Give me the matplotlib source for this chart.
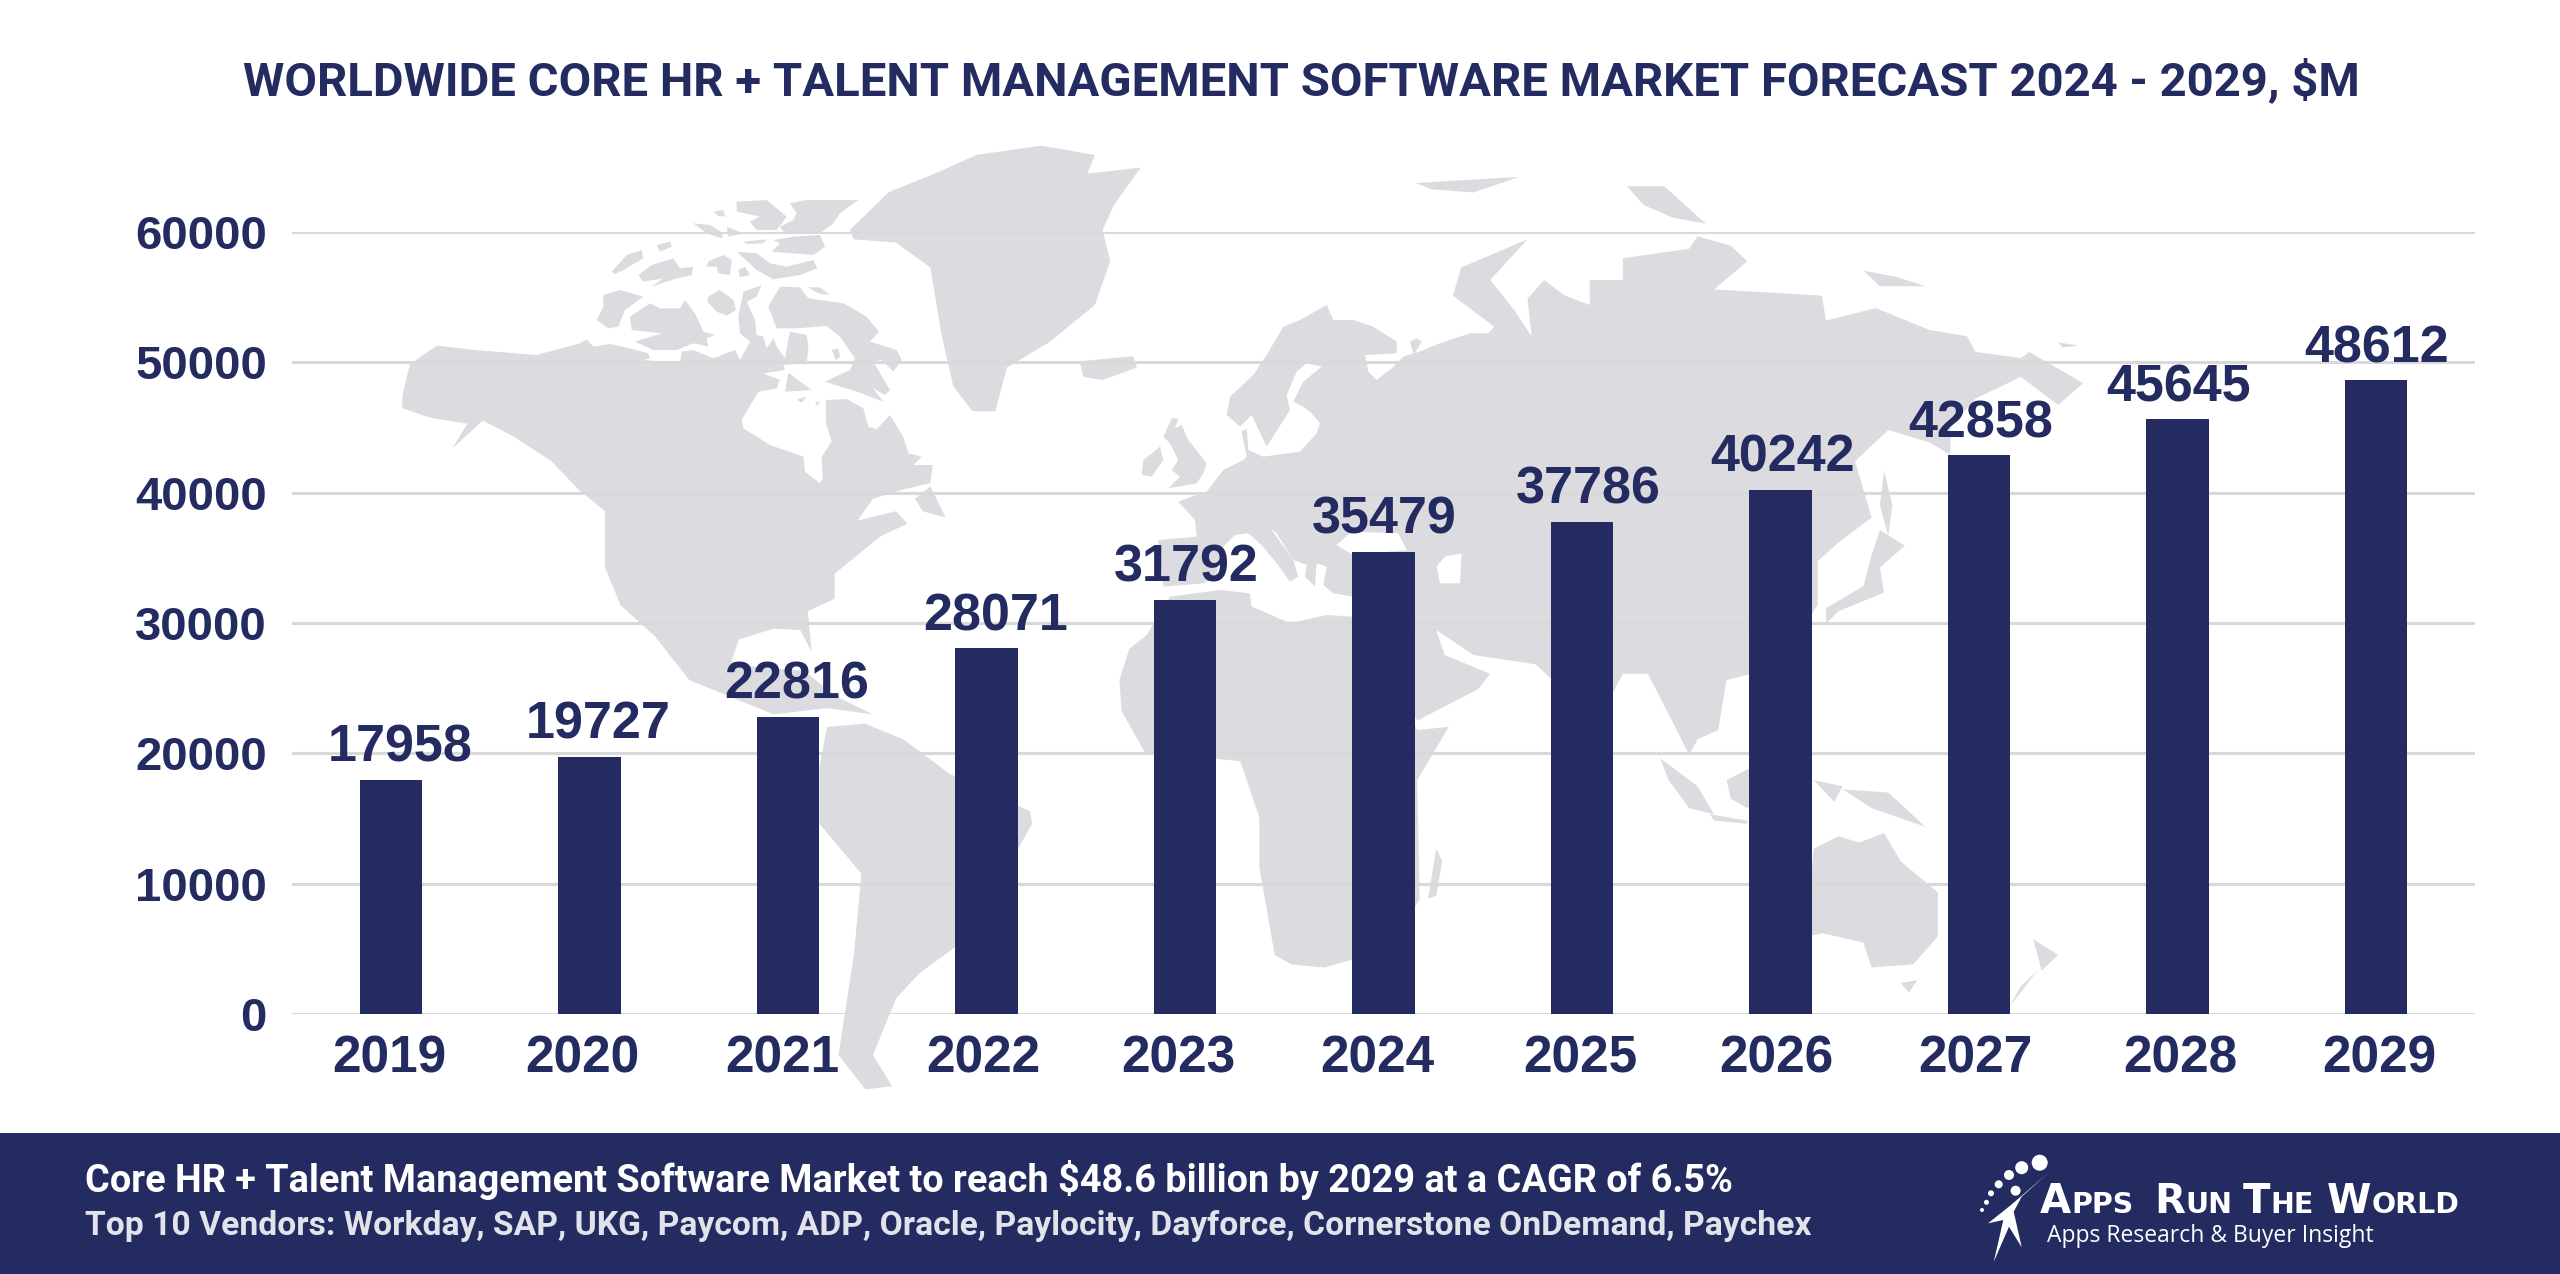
import matplotlib
matplotlib.use("Agg")
import matplotlib.pyplot as plt
from matplotlib.patches import Polygon, Circle, Rectangle
from matplotlib.transforms import ScaledTranslation

years = ["2019", "2020", "2021", "2022", "2023", "2024", "2025", "2026", "2027", "2028", "2029"]
market = [17958, 19727, 22816, 28071, 31792, 35479, 37786, 40242, 42858, 45645, 48612]
yticks = [0, 10000, 20000, 30000, 40000, 50000, 60000]

title = "WORLDWIDE CORE HR + TALENT MANAGEMENT SOFTWARE MARKET FORECAST 2024 - 2029, $M"
line1 = "Core HR + Talent Management Software Market to reach $48.6 billion by 2029 at a CAGR of 6.5%"
line2 = "Top 10 Vendors: Workday, SAP, UKG, Paycom, ADP, Oracle, Paylocity, Dayforce, Cornerstone OnDemand, Paychex"

NAVY = "#242b60"
MAP = "#dcdce0"
GRID = "#d9d9d9"
W, H = 2560, 1274

# hand nudges in px, the labels in the original are not quite centred
label_nudge = [9, 9, 9, 9, 1, 1, 6, 2, 2, 1, 1]
tick_nudge = [-2, -7, -6, -3, -7, -6, -2, -4, -3, 3, 4]


# outlines, four crops with their own scales
def a(pts):
    return [(100 + x / 1.3067, 130 + y / 1.6) for x, y in pts]


def b(pts):
    return [(1200 + x / 1.206, 130 + y / 1.6) for x, y in pts]


def c(pts):
    return [(580 + x / 3, 200 + y / 3) for x, y in pts]


def d(pts):
    return [(1120 + x / 3, 300 + y / 3) for x, y in pts]


north_america = a([(395, 425), (405, 375), (440, 345), (490, 352), (570, 360)]) + \
    c([(0, 430), (20, 418), (40, 440), (90, 432), (150, 445), (205, 460), (210, 475), (190, 480), (300, 488), (305, 455),
       (340, 450), (400, 475), (465, 450), (480, 480), (510, 425), (480, 400), (475, 350), (490, 275), (545, 255),
       (530, 290), (500, 305), (525, 360), (530, 405), (550, 410), (560, 445), (580, 415), (590, 440), (615, 475),
       (625, 420), (630, 395), (680, 405), (685, 440), (680, 490), (610, 495), (615, 510), (550, 520), (600, 540),
       (590, 565), (535, 575), (485, 660), (490, 685), (570, 735), (670, 770), (675, 815), (720, 850), (728, 835),
       (725, 770), (755, 725), (738, 670), (738, 600), (800, 597), (850, 625), (865, 680), (890, 688), (930, 645),
       (970, 710), (985, 760), (1025, 770), (1000, 795), (1058, 795)]) + \
    a([(1085, 565), (1050, 575), (1010, 590), (990, 625), (1040, 610), (1055, 630), (1020, 650), (990, 680), (960, 710),
       (960, 750), (925, 770), (930, 835), (915, 800), (880, 798), (835, 815), (825, 850), (860, 860), (920, 865),
       (960, 905), (1010, 935), (950, 925), (880, 935), (820, 905), (770, 880), (725, 810), (680, 760), (660, 700),
       (660, 610), (625, 575), (590, 530), (540, 490), (500, 465), (460, 510), (405, 555), (460, 510), (480, 470),
       (430, 460), (395, 445)])
south_america = a([(950, 955), (1000, 950), (1050, 975), (1110, 1030), (1215, 1090), (1218, 1110), (1195, 1160),
                   (1125, 1260), (1120, 1305), (1070, 1350), (1040, 1390), (1010, 1480), (1035, 1530), (1000, 1535),
                   (965, 1480), (985, 1320), (995, 1190), (940, 1110), (940, 1020)])
greenland = a([(980, 160), (1030, 100), (1100, 65), (1145, 40), (1230, 25), (1300, 40), (1290, 70), (1360, 60),
               (1325, 120), (1310, 160), (1320, 210), (1300, 280), (1240, 340), (1185, 380), (1170, 450), (1140, 450),
               (1115, 410), (1100, 330), (1085, 220), (1040, 180), (985, 175)])
arctic = [
    c([(470, 5), (560, 0), (620, 50), (590, 90), (530, 90), (510, 65), (540, 50), (470, 35)]),
    c([(630, 10), (680, 0), (835, 0), (780, 40), (760, 70), (720, 100), (610, 95), (600, 80), (640, 60), (650, 40)]),
    c([(580, 120), (640, 110), (720, 105), (735, 140), (700, 165), (575, 155), (600, 130)]),
    c([(470, 155), (530, 160), (570, 190), (620, 200), (700, 180), (712, 205), (660, 225), (580, 238), (530, 210)]),
    c([(340, 70), (390, 75), (430, 100), (425, 115), (380, 100)]),
    c([(440, 80), (490, 100), (445, 110)]),
    c([(400, 35), (430, 30), (435, 50), (415, 48)]),
    c([(490, 125), (560, 118), (550, 130), (500, 132)]),
    c([(95, 215), (140, 165), (185, 150), (190, 175), (130, 210), (105, 222)]),
    c([(175, 225), (215, 195), (280, 175), (300, 205), (340, 200), (335, 225), (290, 235), (215, 260), (250, 235),
       (190, 245)]),
    c([(230, 135), (270, 125), (275, 140), (240, 155)]),
    c([(385, 185), (430, 165), (455, 180), (450, 225), (415, 220), (410, 200), (380, 200)]),
    c([(475, 210), (495, 200), (510, 225), (480, 232)]),
    c([(70, 285), (120, 270), (190, 290), (135, 330), (115, 380), (85, 385), (50, 360), (70, 320)]),
    c([(150, 350), (210, 310), (240, 325), (300, 325), (315, 300), (345, 340), (370, 395), (405, 405), (380, 415),
       (385, 440), (340, 430), (290, 450), (220, 450), (165, 425), (245, 400), (155, 390)]),
    c([(385, 290), (420, 270), (460, 300), (468, 330), (440, 347), (410, 335), (382, 305)]),
    c([(565, 320), (600, 260), (660, 262), (685, 295), (790, 310), (860, 350), (897, 395), (870, 425), (950, 450),
       (965, 480), (940, 515), (905, 480), (880, 485), (930, 570), (915, 585), (880, 565), (910, 605), (830, 575),
       (735, 545), (810, 510), (825, 475), (780, 410), (740, 378), (650, 385), (590, 385)]),
    c([(755, 450), (775, 445), (780, 470), (768, 480)]),
    c([(625, 518), (695, 570), (615, 575)]),
    c([(650, 598), (680, 590), (665, 608)]),
    c([(705, 605), (720, 605), (712, 618)]),
    c([(685, 262), (720, 262), (750, 285), (715, 280)]),
    a([(1065, 590), (1085, 570), (1105, 620), (1075, 610)]),
    a([(1280, 370), (1350, 362), (1355, 380), (1310, 400), (1285, 395)]),
    d([(130, 410), (155, 355), (175, 355), (165, 385), (185, 375), (205, 420), (260, 490), (250, 520), (230, 550),
       (145, 565), (180, 530), (155, 510), (175, 480), (150, 430)]),
    d([(65, 525), (70, 480), (120, 440), (130, 480), (95, 530)]),
]
eurasia = d([(320, 345), (330, 290), (400, 225), (440, 165), (490, 80), (540, 60), (620, 15), (640, 60), (700, 60),
             (760, 80), (830, 125), (830, 160), (735, 165), (745, 215), (770, 240), (815, 205), (850, 170), (880, 160),
             (870, 125), (890, 115), (905, 125), (885, 160), (960, 130), (1050, 100), (1105, 100)]) + \
    b([(355, 315), (305, 265), (315, 220), (395, 175), (350, 240), (380, 290), (400, 330), (395, 270), (415, 240),
       (440, 265), (470, 280), (470, 240), (510, 240), (510, 205), (590, 190), (600, 170), (640, 185), (660, 210),
       (620, 255), (750, 265), (755, 305), (815, 285), (880, 320), (925, 330), (935, 355), (990, 365), (1000, 355),
       (1065, 405), (1035, 440), (990, 395), (935, 430), (905, 475), (905, 520), (880, 500), (830, 480),
       (790, 530), (810, 620), (770, 660), (745, 690), (745, 760), (725, 800), (700, 870), (665, 870), (635, 880),
       (625, 960), (600, 975), (590, 1000), (575, 960), (540, 870), (510, 870), (498, 900), (470, 960), (425, 880),
       (405, 855), (330, 840), (285, 800), (295, 840), (350, 870), (335, 895), (262, 945), (245, 900), (200, 800)]) + \
    d([(700, 890), (640, 880), (610, 855), (620, 800), (590, 790), (585, 860), (555, 830), (560, 795), (520, 780),
       (470, 700), (430, 670), (455, 690), (520, 780), (535, 830), (510, 845), (470, 790), (425, 735), (385, 700),
       (345, 705), (300, 750), (290, 830), (250, 850), (130, 860), (115, 720), (230, 710), (225, 660), (175, 605),
       (215, 590), (260, 575), (310, 510), (370, 480), (380, 470), (365, 395), (380, 385), (385, 450), (430, 470),
       (540, 455), (590, 400), (600, 370), (575, 340), (670, 330), (590, 350), (550, 320), (520, 305), (550, 245),
       (605, 200), (560, 190), (530, 215), (500, 285), (510, 330), (440, 440), (395, 345), (360, 380)])
africa = a([(1345, 830), (1332, 880), (1335, 930), (1365, 995), (1490, 1010), (1515, 1100), (1515, 1180),
            (1535, 1320)]) + \
    b([(110, 1335), (150, 1340), (230, 1310), (265, 1230), (262, 1040), (300, 955), (262, 960)]) + \
    d([(700, 950), (620, 945), (530, 965), (500, 965), (395, 920), (390, 880), (300, 870), (150, 890), (80, 1005)])
islands = [
    b([(820, 640), (850, 665), (820, 700), (825, 740), (770, 770), (755, 790), (755, 765), (800, 730), (810, 680)]),
    b([(825, 545), (835, 600), (830, 650), (820, 600)]),
    b([(555, 1005), (600, 1050), (620, 1095), (590, 1085), (565, 1040)]),
    b([(615, 1095), (660, 1105), (660, 1110), (620, 1105)]),
    b([(635, 1040), (665, 1020), (690, 1060), (660, 1085), (640, 1070)]),
    b([(740, 1040), (775, 1050), (765, 1075)]),
    b([(775, 1055), (830, 1060), (875, 1115), (810, 1085)]),
    b([(740, 1150), (770, 1130), (795, 1140), (825, 1125), (845, 1170), (890, 1220), (890, 1290), (860, 1335),
       (810, 1340), (800, 1300), (750, 1285), (735, 1290), (737, 1200)]),
    b([(845, 1365), (865, 1360), (855, 1380)]),
    b([(1005, 1295), (1035, 1320), (1015, 1345), (1010, 1320)]),
    b([(1010, 1345), (975, 1405), (990, 1370)]),
    b([(260, 85), (320, 80), (385, 75), (330, 100), (280, 95)]),
    b([(515, 90), (560, 90), (610, 150), (570, 140), (535, 120)]),
    b([(800, 225), (840, 235), (875, 250), (820, 250)]),
    b([(1035, 340), (1060, 345), (1040, 348)]),
    b([(275, 1230), (285, 1150), (292, 1170), (285, 1225)]),
]
seas = [
    d([(950, 800), (975, 770), (1025, 760), (1020, 850), (960, 850)]),
    d([(650, 735), (695, 695), (835, 700), (860, 750), (700, 765)]),
]

logo_person = [(2048.5, 1172.7), (2021.7, 1196.7), (2013.7, 1211.7), (2021.7, 1247.3), (2009, 1226.7), (1993.8, 1261.7),
               (2003.3, 1220), (1988, 1223.3), (2011, 1205)]
logo_dots = [(2039.7, 1162.7, 8), (2021.7, 1167.7, 6.5), (2009, 1175, 5), (1998.7, 1184.3, 4), (1991, 1193.3, 3),
             (1986.5, 1202.3, 2.5), (1982, 1210, 2), (2015.6, 1190.7, 5)]

fig = plt.figure(figsize=(W / 100, H / 100), dpi=100, facecolor="white")

# background layer in pixel coords: map, footer band, title, logo
bg = fig.add_axes([0, 0, 1, 1], zorder=0)
bg.set_xlim(0, W)
bg.set_ylim(H, 0)
bg.axis("off")

for shape in [north_america, south_america, greenland, eurasia, africa] + arctic + islands:
    bg.add_patch(Polygon(shape, closed=True, fc=MAP, ec="none"))
for shape in seas:
    bg.add_patch(Polygon(shape, closed=True, fc="white", ec="none"))

ax = fig.add_axes([292 / W, 1 - 1014 / H, (2475 - 292) / W, (1014 - 232) / H], zorder=1)
ax.patch.set_alpha(0)
ax.bar(range(len(years)), market, width=0.315, color=NAVY, zorder=3)
ax.set_xlim(-0.5, 10.5)
ax.set_ylim(0, 60000)
ax.set_yticks(yticks)
ax.set_xticks(range(len(years)))
ax.set_xticklabels(years)
ax.grid(axis="y", color=GRID, linewidth=2.2, zorder=1)
ax.set_axisbelow(True)
for s in ax.spines.values():
    s.set_visible(False)
ax.tick_params(length=0)
ax.tick_params(axis="x", pad=15)
ax.tick_params(axis="y", pad=18)
for lab in ax.get_yticklabels():
    lab.set_fontfamily("Liberation Sans")
    lab.set_fontweight("bold")
    lab.set_fontsize(34)
    lab.set_color(NAVY)
for lab, dx in zip(ax.get_xticklabels(), tick_nudge):
    lab.set_fontfamily("Liberation Sans")
    lab.set_fontweight("bold")
    lab.set_fontsize(37)
    lab.set_color(NAVY)
    lab.set_transform(lab.get_transform() + ScaledTranslation(dx / 100, 0, fig.dpi_scale_trans))

for i, v in enumerate(market):
    ax.annotate(str(v), (i, v), xytext=(label_nudge[i] * 0.72, 13), textcoords="offset points",
                ha="center", va="baseline", family="Liberation Sans", weight="bold", fontsize=37.5,
                color=NAVY, zorder=5, annotation_clip=False)

# top layer
top = fig.add_axes([0, 0, 1, 1], zorder=2)
top.set_xlim(0, W)
top.set_ylim(H, 0)
top.axis("off")
top.patch.set_alpha(0)

top.text(1301, 81, title, ha="center", va="center", color=NAVY, family="Roboto", weight="bold", fontsize=34)

top.add_patch(Rectangle((0, 1133), W, H - 1133, fc=NAVY, ec="none"))
top.text(85, 1180, line1, ha="left", va="center", color="white", family="Roboto", weight="bold", fontsize=27.3)
top.text(85, 1226, line2, ha="left", va="center", color="#e2e2ea", family="Roboto", weight="bold", fontsize=24.2)

top.add_patch(Polygon(logo_person, closed=True, fc="white", ec="none"))
for x, y, r in logo_dots:
    top.add_patch(Circle((x, y), r, fc="white", ec="none"))

for x, big, small in [(2040, "A", "PPS"), (2154, "R", "UN"), (2243, "T", "HE"), (2327, "W", "ORLD")]:
    t = top.text(x, 1213, big, ha="left", va="baseline", color="white", family="DejaVu Sans", weight="bold", fontsize=29)
    fig.canvas.draw()
    bb = t.get_window_extent()
    top.text(bb.x1, 1213, small, ha="left", va="baseline", color="white", family="DejaVu Sans", weight="bold",
             fontsize=20.5)
top.text(2047, 1242, "Apps Research & Buyer Insight", ha="left", va="baseline", color="white", family="Open Sans",
         fontsize=16.5)

fig.savefig("out.png", dpi=100, facecolor="white")
